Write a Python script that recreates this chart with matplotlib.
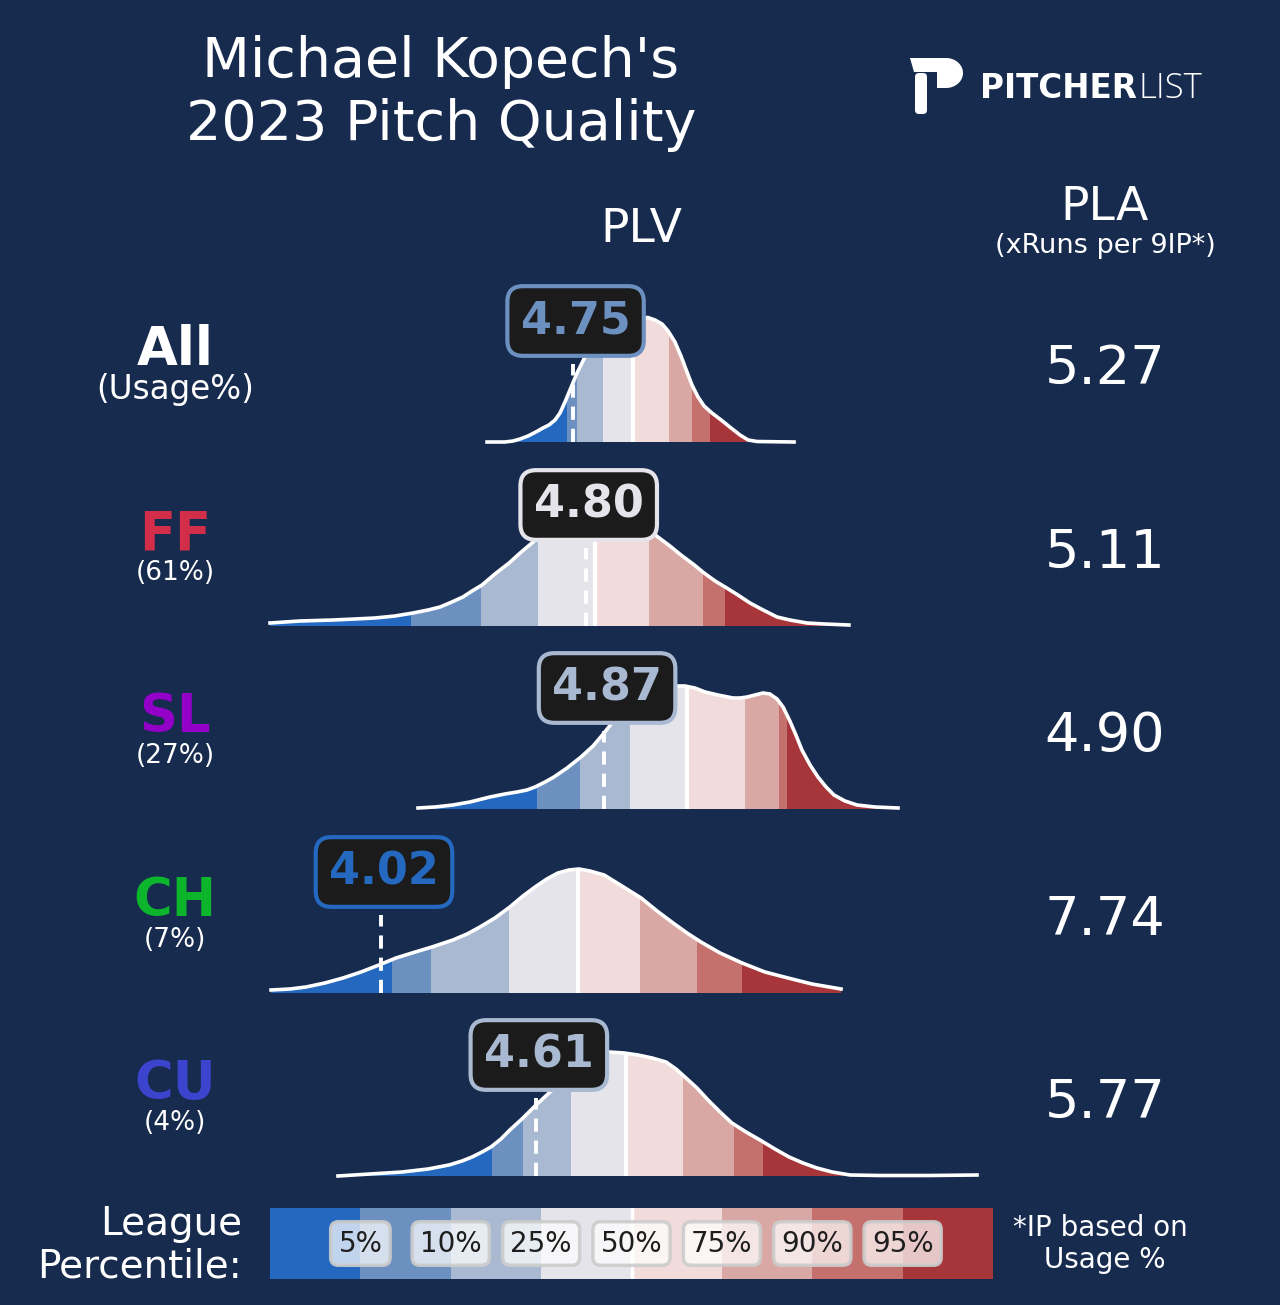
import numpy as np
import matplotlib
matplotlib.use("Agg")
import matplotlib.pyplot as plt
from matplotlib.patches import Polygon, FancyBboxPatch
from matplotlib.transforms import offset_copy

W, H = 1280, 1305
BG = "#172b4f"

# ---- data ----
pitches = ["All", "FF", "SL", "CH", "CU"]
pitch_colors = ["#ffffff", "#d22d49", "#9300c7", "#0cb52c", "#3c44cd"]
usage = ["(Usage%)", "(61%)", "(27%)", "(7%)", "(4%)"]
plv = [4.75, 4.80, 4.87, 4.02, 4.61]
pla = [5.27, 5.11, 4.90, 7.74, 5.77]

pct_labels = ["5%", "10%", "25%", "50%", "75%", "90%", "95%"]
band_colors = ["#2469bf", "#6c90c0", "#aab9d2", "#e4e4ea",
               "#f2dcdb", "#daa8a4", "#c4706c", "#a6363a"]

# league percentile cut points (PLV) per pitch type: 5,10,25,50,75,90,95
cuts_all = [4.727, 4.767, 4.866, 4.982, 5.118, 5.205, 5.274]
cuts_ff = [4.134, 4.401, 4.618, 4.835, 5.041, 5.247, 5.331]
cuts_sl = [4.614, 4.778, 4.969, 5.186, 5.407, 5.537, 5.567]
cuts_ch = [4.062, 4.210, 4.508, 4.771, 5.007, 5.224, 5.396]
cuts_cu = [4.443, 4.561, 4.744, 4.954, 5.171, 5.365, 5.476]

# league PLV density curves (x = PLV, d = relative density, peak ~124)
x_all = [4.424, 4.492, 4.523, 4.550, 4.580, 4.610, 4.637, 4.660, 4.683, 4.702,
         4.721, 4.740, 4.767, 4.797, 4.835, 4.873, 4.912, 4.950, 4.976, 5.007,
         5.037, 5.064, 5.091, 5.114, 5.140, 5.163, 5.186, 5.205, 5.228, 5.251,
         5.281, 5.316, 5.354, 5.388, 5.419, 5.453, 5.594]
d_all = [0, 0, 1, 3, 6, 10, 14, 17, 22, 29,
         40, 52, 69, 85, 100, 111, 117, 121, 123, 124,
         124.5, 122, 118, 111, 100, 86, 70, 57, 45, 36,
         29, 22, 14, 7, 2, 0.5, 0]

x_ff = [3.597, 3.711, 3.837, 3.921, 3.997, 4.073, 4.142, 4.199, 4.245, 4.290,
        4.332, 4.367, 4.405, 4.454, 4.508, 4.550, 4.595, 4.664, 4.721, 4.778,
        4.835, 4.893, 4.950, 5.007, 5.075, 5.121, 5.163, 5.209, 5.251, 5.293,
        5.331, 5.380, 5.426, 5.476, 5.529, 5.578, 5.643, 5.712, 5.803]
d_ff = [3, 5, 6, 7, 8, 10, 13, 16, 19, 24,
        29, 35, 41, 52, 63, 73, 83, 99, 111, 119,
        122, 120, 114, 103, 89, 80, 71, 62, 53, 45,
        39, 31, 23, 16, 9, 6, 3, 2, 1]

x_sl = [4.161, 4.226, 4.294, 4.359, 4.435, 4.492, 4.538, 4.576, 4.607, 4.645,
        4.679, 4.729, 4.782, 4.828, 4.870, 4.900, 4.931, 4.969, 5.007, 5.045,
        5.083, 5.129, 5.178, 5.216, 5.255, 5.304, 5.361, 5.388, 5.415, 5.445,
        5.476, 5.502, 5.529, 5.552, 5.578, 5.601, 5.624, 5.655, 5.685, 5.716,
        5.746, 5.788, 5.834, 5.902, 5.990]
d_sl = [1, 2, 4, 7, 12, 15, 17, 19, 22, 27,
        32, 41, 52, 63, 76, 86, 95, 103, 110, 115,
        119, 123, 123, 121, 117, 114, 111, 111, 112, 114,
        116, 115, 110, 102, 88, 74, 59, 44, 32, 22,
        14, 8, 4, 2, 1]

x_ch = [3.601, 3.673, 3.734, 3.806, 3.875, 3.944, 4.012, 4.077, 4.138, 4.214,
        4.294, 4.348, 4.397, 4.454, 4.511, 4.561, 4.607, 4.652, 4.694, 4.736,
        4.774, 4.816, 4.870, 4.938, 5.011, 5.072, 5.133, 5.186, 5.239, 5.312,
        5.396, 5.483, 5.571, 5.662, 5.773]
d_ch = [3, 4, 6, 10, 15, 21, 28, 35, 40, 46,
        53, 59, 66, 75, 86, 97, 106, 114, 120, 123,
        124, 122, 118, 107, 95, 82, 70, 60, 51, 40,
        30, 21, 15, 9, 4]

x_cu = [3.856, 3.978, 4.100, 4.199, 4.279, 4.329, 4.367, 4.405, 4.439, 4.477,
        4.511, 4.557, 4.603, 4.664, 4.702, 4.740, 4.778, 4.816, 4.854, 4.889,
        4.946, 4.999, 5.053, 5.106, 5.144, 5.178, 5.224, 5.266, 5.312, 5.357,
        5.411, 5.464, 5.521, 5.575, 5.628, 5.681, 5.739, 5.807, 5.921, 6.112,
        6.291]
d_cu = [0, 2, 4, 7, 11, 15, 19, 24, 29, 37,
        46, 57, 69, 84, 93, 102, 110, 118, 122, 124,
        123, 121, 118, 114, 107, 99, 88, 76, 64, 53,
        44, 36, 27, 19, 13, 8, 4, 1, 0.5, 0.5,
        1]

curves = [(x_all, d_all, cuts_all), (x_ff, d_ff, cuts_ff), (x_sl, d_sl, cuts_sl),
          (x_ch, d_ch, cuts_ch), (x_cu, d_cu, cuts_cu)]

# ---- layout ----
XMIN, XMAX = 3.597, 6.352
base_px = [442, 626, 809, 993, 1176]

fig = plt.figure(figsize=(W / 100, H / 100), dpi=100, facecolor=BG)

# overlay axes in pixel coords for text and logo
ov = fig.add_axes([0, 0, 1, 1], zorder=0)
ov.set_xlim(0, W)
ov.set_ylim(H, 0)
ov.axis("off")

ov.text(441, 77, "Michael Kopech's", ha="center", va="baseline", fontsize=40, color="white")
ov.text(441, 140, "2023 Pitch Quality", ha="center", va="baseline", fontsize=40, color="white")
ov.text(641, 242, "PLV", ha="center", va="baseline", fontsize=34, color="white")
ov.text(1105, 220, "PLA", ha="center", va="baseline", fontsize=34, color="white")
ov.text(1105, 253, "(xRuns per 9IP*)", ha="center", va="baseline", fontsize=19.5, color="white")

# logo
stem = FancyBboxPatch((915, 73), 12, 41, boxstyle="round,pad=0,rounding_size=4",
                      fc="white", ec="none")
ov.add_patch(stem)
t = np.linspace(np.pi / 2, -np.pi / 2, 30)
bowl = [(910, 58), (946, 58)] + list(zip(946 + 17 * np.cos(t), 73 - 15 * np.sin(t))) + \
       [(937, 88), (937, 72), (914, 72)]
ov.add_patch(Polygon(bowl, closed=True, fc="white", ec="none"))
ov.text(980, 89, "PITCHER", ha="left", va="center", fontsize=23.5, fontweight="bold", color="white")
ov.text(1139, 89, "LIST", ha="left", va="center", fontsize=25, fontweight="light",
        family=["Open Sans", "DejaVu Sans"], color="white")

for i, name in enumerate(pitches):
    b = base_px[i]
    ov.text(175, b - 77, name, ha="center", va="baseline", fontsize=38,
            fontweight="bold", color=pitch_colors[i])
    if i == 0:
        ov.text(175, b - 43, usage[i], ha="center", va="baseline", fontsize=23.5, color="white")
    else:
        ov.text(175, b - 46, usage[i], ha="center", va="baseline", fontsize=19, color="white")
    ov.text(1105, b - 58, f"{pla[i]:.2f}", ha="center", va="baseline", fontsize=39, color="white")

    x, d, cuts = curves[i]
    ax = fig.add_axes([270 / W, 1 - b / H, 723 / W, 170 / H], zorder=2)
    ax.set_xlim(XMIN, XMAX)
    ax.set_ylim(0, 170)
    ax.axis("off")

    poly = Polygon(np.column_stack([np.r_[x[0], x, x[-1]], np.r_[0, d, 0]]),
                   closed=True, fc="none", ec="none")
    ax.add_patch(poly)
    edges = [XMIN] + cuts + [XMAX]
    for j in range(8):
        sp = ax.axvspan(edges[j], edges[j + 1], color=band_colors[j], lw=0)
        sp.set_clip_path(poly)
    med = ax.axvline(cuts[3], color="white", lw=3)
    med.set_clip_path(poly)
    ax.plot(x, d, color="white", lw=2.6, clip_on=False, solid_joinstyle="round")

    v = plv[i]
    c = band_colors[int(np.searchsorted(cuts, v))]
    ax.plot([v, v], [0, 78], color="white", lw=2.8, ls=(0, (3.4, 2.3)), clip_on=False)
    box_tr = offset_copy(ax.transData, fig=fig, x=3, y=0, units="dots")
    ax.text(v, 121, f"{v:.2f}", ha="center", va="center", fontsize=32,
            fontweight="bold", color=c, zorder=5, transform=box_tr,
            bbox=dict(boxstyle="round,pad=0.3,rounding_size=0.35", fc="#1b1b1b", ec=c, lw=3))

# legend bar
lg = fig.add_axes([270 / W, 1 - 1279 / H, 723 / W, 71 / H], zorder=2)
lg.set_xlim(0, 8)
lg.set_ylim(0, 1)
lg.axis("off")
for j in range(8):
    lg.axvspan(j, j + 1, color=band_colors[j], lw=0)
lg.axvline(4, color="white", lw=2.5)
for j, lab in enumerate(pct_labels):
    lg.text(j + 1, 0.5, lab, ha="center", va="center", fontsize=20, color="#1e1e1e",
            bbox=dict(boxstyle="round,pad=0.28", fc=(1, 1, 1, 0.72),
                      ec=(0.8, 0.8, 0.8, 0.9), lw=2.5))

ov.text(242, 1235, "League", ha="right", va="baseline", fontsize=28, color="white")
ov.text(242, 1278, "Percentile:", ha="right", va="baseline", fontsize=28, color="white")
ov.text(1100, 1236, "*IP based on", ha="center", va="baseline", fontsize=20, color="white")
ov.text(1105, 1268, "Usage %", ha="center", va="baseline", fontsize=20, color="white")

fig.savefig("out.png", dpi=100, facecolor=BG)
